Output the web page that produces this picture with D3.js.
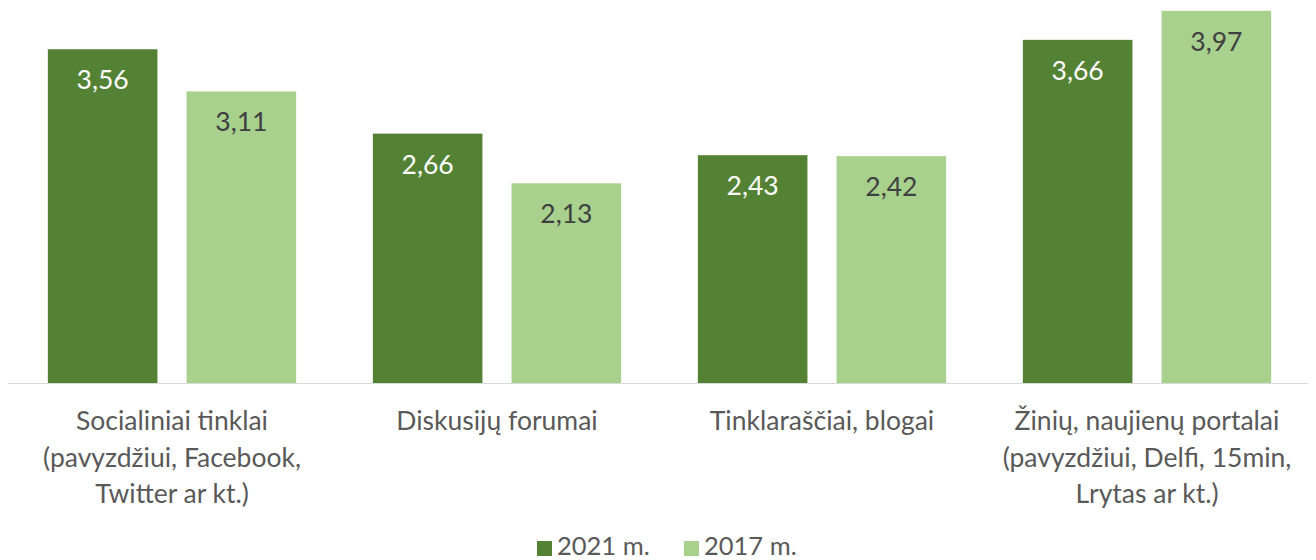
<!DOCTYPE html>
<html><head><meta charset="utf-8">
<script src="https://cdn.jsdelivr.net/npm/d3@7"></script>
<style>body{margin:0;background:#fff}</style>
</head><body>
<svg id="c" width="1316" height="560"></svg>
<script>
const categories = [
  ["Socialiniai tinklai", "(pavyzdžiui, Facebook,", "Twitter ar kt.)"],
  ["Diskusijų forumai"],
  ["Tinklaraščiai, blogai"],
  ["Žinių, naujienų portalai", "(pavyzdžiui, Delfi, 15min,", "Lrytas ar kt.)"]
];
const series = ["2021 m.", "2017 m."];
const values2021 = [3.56, 2.66, 2.43, 3.66];
const values2017 = [3.11, 2.13, 2.42, 3.97];
const colors = ["#548235", "#A9D18E"];
const labelColors = ["#ffffff", "#404040"];
const font = "Lato, Calibri, 'Open Sans', sans-serif";

const svg = d3.select("#c");
const x0 = d3.scaleBand().domain(d3.range(categories.length)).range([9.5, 1309.5]).paddingInner(0.236).paddingOuter(0.118);
const x1 = d3.scaleBand().domain(d3.range(series.length)).range([0, x0.bandwidth()]).paddingInner(0.21);
const y = d3.scaleLinear().domain([0, 4]).range([383, 8]);
const data = [values2021, values2017];

const g = svg.append("g");
categories.forEach((c, i) => {
  data.forEach((vals, s) => {
    const v = vals[i];
    const bx = x0(i) + x1(s);
    g.append("rect").attr("x", bx).attr("y", y(v)).attr("width", x1.bandwidth()).attr("height", y(0) - y(v)).attr("fill", colors[s]);
    g.append("text").attr("x", bx + x1.bandwidth()/2).attr("y", y(v) + 40)
      .attr("text-anchor", "middle").attr("font-family", font).attr("font-size", 26.5)
      .attr("fill", labelColors[s]).text(d3.format(".2f")(v).replace(".", ","));
  });
});

svg.append("line").attr("x1", 8).attr("x2", 1308).attr("y1", y(0)+0.5).attr("y2", y(0)+0.5).attr("stroke", "#d9d9d9").attr("stroke-width", 1);

categories.forEach((lines, i) => {
  const cx = x0(i) + x0.bandwidth()/2;
  const t = svg.append("text").attr("text-anchor", "middle").attr("font-family", font).attr("font-size", 26.5).attr("fill", "#595959");
  lines.forEach((l, k) => t.append("tspan").attr("x", cx).attr("y", 430 + k*36.5).text(l));
});

const leg = svg.append("g");
const legX = [537, 684];
series.forEach((s, i) => {
  leg.append("rect").attr("x", legX[i]).attr("y", 541).attr("width", 15).attr("height", 15).attr("fill", colors[i]);
  leg.append("text").attr("x", legX[i] + 20).attr("y", 555).attr("font-family", font).attr("font-size", 25.5).attr("fill", "#595959").text(s);
});
</script>
</body></html>
